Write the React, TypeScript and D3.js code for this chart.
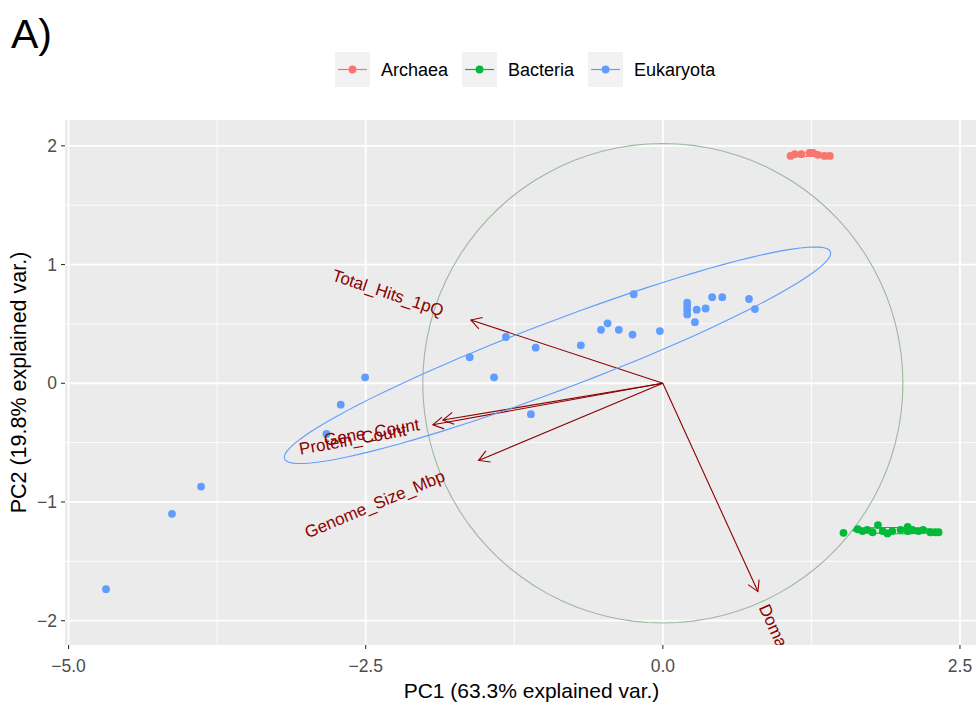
import { useEffect, useRef } from 'react';
import * as d3 from 'd3';

// groups and colours (ggplot default hue palette)
const groups = ['Archaea', 'Bacteria', 'Eukaryota'];
const groupColors = ['#F8766D', '#00BA38', '#619CFF'];

// PCA scores
const archaeaPC1 = [1.075, 1.11, 1.165, 1.235, 1.265, 1.305, 1.36, 1.405];
const archaeaPC2 = [1.915, 1.93, 1.93, 1.94, 1.94, 1.925, 1.915, 1.915];

const bacteriaPC1 = [1.52, 1.64, 1.68, 1.72, 1.765, 1.81, 1.85, 1.89, 1.93, 2.0, 2.06, 2.06, 2.1, 2.15, 2.19, 2.25, 2.29, 2.32];
const bacteriaPC2 = [-1.26, -1.23, -1.245, -1.235, -1.255, -1.195, -1.245, -1.265, -1.245, -1.235, -1.21, -1.245, -1.235, -1.245, -1.235, -1.255, -1.255, -1.255];

const eukaryotaPC1 = [-4.685, -4.13, -3.885, -2.83, -2.71, -2.505, -1.625, -1.42, -1.32, -1.11, -1.07, -0.69, -0.52, -0.465, -0.37, -0.255, -0.245, -0.025, 0.205, 0.205, 0.205, 0.205, 0.285, 0.27, 0.36, 0.415, 0.5, 0.725, 0.775];
const eukaryotaPC2 = [-1.735, -1.1, -0.87, -0.427, -0.18, 0.05, 0.22, 0.05, 0.39, -0.26, 0.3, 0.32, 0.45, 0.505, 0.45, 0.41, 0.75, 0.44, 0.68, 0.65, 0.62, 0.58, 0.62, 0.515, 0.63, 0.725, 0.725, 0.71, 0.625];

// variable loadings (arrows)
const varNames = ['Total_Hits_1pQ', 'Gene_Count', 'Protein_Count', 'Genome_Size_Mbp', 'Domain'];
const varPC1 = [-1.615, -1.85, -1.935, -1.55, 0.8];
const varPC2 = [0.533, -0.31, -0.35, -0.65, -1.755];
const circleRadius = 2.02;

const xTicks = [-5, -2.5, 0, 2.5];
const yTicks = [-2, -1, 0, 1, 2];
const xTitle = 'PC1 (63.3% explained var.)';
const yTitle = 'PC2 (19.8% explained var.)';

const W = 976;
const H = 707;
const FONT = '"Liberation Sans", Arial, sans-serif';

// ggbiplot style normal ellipse (prob 0.68)
function ellipsePoints(xs: number[], ys: number[]) {
  const n = xs.length;
  const mx = d3.mean(xs) as number;
  const my = d3.mean(ys) as number;
  const vx = d3.variance(xs) as number;
  const vy = d3.variance(ys) as number;
  let cxy = 0;
  for (let i = 0; i < n; i++) cxy += (xs[i] - mx) * (ys[i] - my);
  cxy /= n - 1;
  const a = Math.sqrt(vx);
  const b = cxy / a;
  const c = Math.sqrt(Math.max(vy - b * b, 0));
  const ed = Math.sqrt(-2 * Math.log(1 - 0.68));
  return d3.range(100).map(i => {
    const t = -Math.PI + (2 * Math.PI * i) / 99;
    return [mx + ed * a * Math.cos(t), my + ed * (b * Math.cos(t) + c * Math.sin(t))] as [number, number];
  });
}

const App = () => {
  const svgRef = useRef<SVGSVGElement>(null);

  useEffect(() => {
    const svg = d3.select(svgRef.current);
    svg.selectAll('*').remove();

    const panel = { left: 65, right: 998, top: 120, bottom: 645 };
    const x = d3.scaleLinear().domain([-5.03, 2.82]).range([panel.left, panel.right]);
    const y = d3.scaleLinear().domain([-2.205, 2.218]).range([panel.bottom, panel.top]);

    const series = [
      { name: groups[0], color: groupColors[0], xs: archaeaPC1, ys: archaeaPC2 },
      { name: groups[1], color: groupColors[1], xs: bacteriaPC1, ys: bacteriaPC2 },
      { name: groups[2], color: groupColors[2], xs: eukaryotaPC1, ys: eukaryotaPC2 },
    ];

    svg.append('defs').append('clipPath').attr('id', 'panel-clip')
      .append('rect')
      .attr('x', panel.left).attr('y', panel.top)
      .attr('width', panel.right - panel.left).attr('height', panel.bottom - panel.top);

    // panel background
    svg.append('rect')
      .attr('x', panel.left).attr('y', panel.top)
      .attr('width', panel.right - panel.left).attr('height', panel.bottom - panel.top)
      .attr('fill', '#EBEBEB');

    const grid = svg.append('g');
    const xMinor = d3.pairs(xTicks).map(p => (p[0] + p[1]) / 2);
    const yMinor = d3.pairs(yTicks).map(p => (p[0] + p[1]) / 2);
    xMinor.forEach(v => grid.append('line').attr('x1', x(v)).attr('x2', x(v)).attr('y1', panel.top).attr('y2', panel.bottom).attr('stroke', '#fff').attr('stroke-width', 0.9));
    yMinor.forEach(v => grid.append('line').attr('y1', y(v)).attr('y2', y(v)).attr('x1', panel.left).attr('x2', panel.right).attr('stroke', '#fff').attr('stroke-width', 0.9));
    xTicks.forEach(v => grid.append('line').attr('x1', x(v)).attr('x2', x(v)).attr('y1', panel.top).attr('y2', panel.bottom).attr('stroke', '#fff').attr('stroke-width', 1.8));
    yTicks.forEach(v => grid.append('line').attr('y1', y(v)).attr('y2', y(v)).attr('x1', panel.left).attr('x2', panel.right).attr('stroke', '#fff').attr('stroke-width', 1.8));

    const plot = svg.append('g').attr('clip-path', 'url(#panel-clip)');

    // correlation circle
    const circlePts = d3.range(101).map(i => {
      const t = (2 * Math.PI * i) / 100;
      return [circleRadius * Math.cos(t), circleRadius * Math.sin(t)] as [number, number];
    });
    const line = d3.line<[number, number]>().x(d => x(d[0])).y(d => y(d[1]));
    plot.append('path').attr('d', line(circlePts)).attr('fill', 'none')
      .attr('stroke', '#9DB89D').attr('stroke-width', 1.1);

    // arrows
    const arrows = plot.append('g').attr('stroke', '#8B0000').attr('stroke-width', 1.1).attr('fill', 'none');
    varNames.forEach((_, i) => {
      const x0 = x(0), y0 = y(0), x1 = x(varPC1[i]), y1 = y(varPC2[i]);
      arrows.append('line').attr('x1', x0).attr('y1', y0).attr('x2', x1).attr('y2', y1);
      const ang = Math.atan2(y1 - y0, x1 - x0);
      const len = 12;
      const wing = Math.PI / 6;
      const p1 = [x1 - len * Math.cos(ang - wing), y1 - len * Math.sin(ang - wing)];
      const p2 = [x1 - len * Math.cos(ang + wing), y1 - len * Math.sin(ang + wing)];
      arrows.append('path').attr('d', `M${p1[0]},${p1[1]}L${x1},${y1}L${p2[0]},${p2[1]}`);
    });

    // points
    series.forEach(s => {
      plot.append('g').selectAll('circle')
        .data(s.xs.map((v, i) => [v, s.ys[i]]))
        .enter().append('circle')
        .attr('cx', d => x(d[0]))
        .attr('cy', d => y(d[1]))
        .attr('r', 3.9)
        .attr('fill', s.color);
    });

    // ellipses
    series.forEach(s => {
      plot.append('path').attr('d', line(ellipsePoints(s.xs, s.ys)))
        .attr('fill', 'none').attr('stroke', s.color).attr('stroke-width', 1.1);
    });

    // variable labels (hjust like ggbiplot, varname.adjust = 1.5)
    varNames.forEach((name, i) => {
      const vx = varPC1[i], vy = varPC2[i];
      const angle = (180 / Math.PI) * Math.atan(vy / vx);
      const t = plot.append('text')
        .attr('transform', `translate(${x(vx)},${y(vy)}) rotate(${-angle})`)
        .attr('fill', '#8B0000')
        .style('font-family', FONT)
        .style('font-size', '17px')
        .attr('dy', '0.35em')
        .text(name);
      const w = (t.node() as SVGTextElement).getComputedTextLength();
      if (vx < 0) t.attr('text-anchor', 'end').attr('dx', -0.25 * w);
      else t.attr('text-anchor', 'start').attr('dx', 0.25 * w);
    });

    // axes
    const axis = svg.append('g').style('font-family', FONT);
    xTicks.forEach(v => {
      axis.append('line').attr('x1', x(v)).attr('x2', x(v)).attr('y1', panel.bottom).attr('y2', panel.bottom + 4).attr('stroke', '#333').attr('stroke-width', 1.1);
      axis.append('text').attr('x', x(v)).attr('y', panel.bottom + 27).attr('text-anchor', 'middle')
        .attr('fill', '#4D4D4D').style('font-size', '17.5px').text(d3.format('.1f')(v));
    });
    yTicks.forEach(v => {
      axis.append('line').attr('x1', panel.left - 4).attr('x2', panel.left).attr('y1', y(v)).attr('y2', y(v)).attr('stroke', '#333').attr('stroke-width', 1.1);
      axis.append('text').attr('x', panel.left - 8).attr('y', y(v)).attr('dy', '0.35em').attr('text-anchor', 'end')
        .attr('fill', '#4D4D4D').style('font-size', '17.5px').text(d3.format('d')(v));
    });
    axis.append('text').attr('x', (panel.left + panel.right) / 2).attr('y', 698).attr('text-anchor', 'middle')
      .attr('fill', '#000').style('font-size', '21px').text(xTitle);
    axis.append('text').attr('transform', `translate(26,${(panel.top + panel.bottom) / 2}) rotate(-90)`)
      .attr('text-anchor', 'middle').attr('fill', '#000').style('font-size', '21.5px').text(yTitle);

    // legend
    const legend = svg.append('g').style('font-family', FONT);
    let lx = 335;
    series.forEach(s => {
      const g = legend.append('g').attr('transform', `translate(${lx},52)`);
      g.append('rect').attr('width', 35).attr('height', 35).attr('fill', '#F2F2F2');
      g.append('line').attr('x1', 3).attr('x2', 32).attr('y1', 17.5).attr('y2', 17.5).attr('stroke', s.color).attr('stroke-width', 1.2);
      g.append('circle').attr('cx', 17.5).attr('cy', 17.5).attr('r', 3.9).attr('fill', s.color);
      const t = g.append('text').attr('x', 46).attr('y', 17.5).attr('dy', '0.35em')
        .attr('fill', '#000').style('font-size', '18px').text(s.name);
      const w = (t.node() as SVGTextElement).getComputedTextLength();
      lx += 46 + w + 14;
    });

    // panel tag
    svg.append('text').attr('x', 11).attr('y', 48).style('font-family', FONT).style('font-size', '41px')
      .attr('fill', '#000').text('A)');
  }, []);

  return (
    <svg ref={svgRef} width={W} height={H}
      style={{ position: 'absolute', left: 0, top: 0, background: '#fff' }} />
  );
};

export default App;
